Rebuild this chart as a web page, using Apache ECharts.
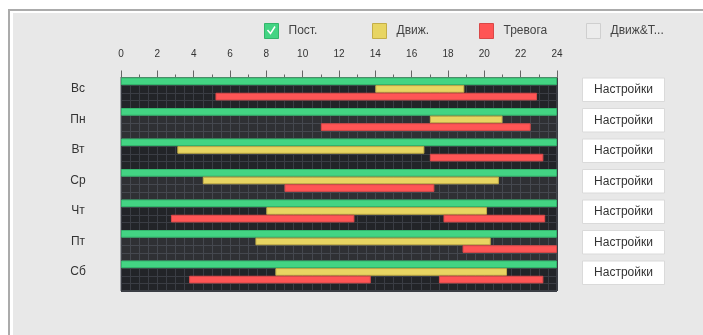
<!DOCTYPE html>
<html>
<head>
<meta charset="utf-8">
<script src="https://cdn.jsdelivr.net/npm/echarts@6/dist/echarts.min.js"></script>
<style>
  html, body { margin: 0; padding: 0; background: #ffffff; }
  #chart { width: 703px; height: 335px; }
</style>
</head>
<body>
<div id="chart"></div>
<script>
// ---- data ----
var days = ['Вс', 'Пн', 'Вт', 'Ср', 'Чт', 'Пт', 'Сб'];
var dayShade = [0, 1, 0, 1, 0, 1, 0];
var seriesNames = ['Пост.', 'Движ.', 'Тревога', 'Движ&Тревога'];
// [dayIndex, startHour, endHour]
var constantRec = [[0, 0, 24], [1, 0, 24], [2, 0, 24], [3, 0, 24], [4, 0, 24], [5, 0, 24], [6, 0, 24]];
var motionRec = [[0, 14, 18.9], [1, 17, 21], [2, 3.1, 16.7], [3, 4.5, 20.8], [4, 8, 20.15], [5, 7.4, 20.35], [6, 8.5, 21.25]];
var alarmRec = [[0, 5.2, 22.9], [1, 11, 22.55], [2, 17, 23.25], [3, 9, 17.25], [4, 2.75, 12.85], [4, 17.75, 23.35], [5, 18.8, 24], [6, 3.75, 13.75], [6, 17.5, 23.25]];
var comboRec = [];
var buttonText = 'Настройки';

var ROWS_PER_DAY = 4;
var colors = {
  fill: ['#43d483', '#e8d562', '#ff5555', '#ececec'],
  stroke: ['#33b56c', '#c4ae48', '#d94848', '#cfcfcf']
};

function barRenderer(rowOffset) {
  return function (params, api) {
    var day = api.value(0);
    var row = day * ROWS_PER_DAY + rowOffset;
    var p0 = api.coord([api.value(1), row]);
    var p1 = api.coord([api.value(2), row + 1]);
    return {
      type: 'rect',
      shape: { x: p0[0] + 0.5, y: p0[1] + 0.5, width: p1[0] - p0[0] - 1, height: p1[1] - p0[1] - 1 },
      style: { fill: colors.fill[rowOffset], stroke: colors.stroke[rowOffset], lineWidth: 1 }
    };
  };
}

function barSeries(idx, data) {
  return {
    name: seriesNames[idx],
    type: 'custom',
    xAxisIndex: 0,
    yAxisIndex: 0,
    itemStyle: { color: colors.fill[idx] },
    renderItem: barRenderer(idx),
    data: data,
    silent: true,
    z: 5
  };
}

var chart = echarts.init(document.getElementById('chart'), null, { renderer: 'canvas' });

function legendItem(idx, left) {
  return {
    left: left,
    top: 23,
    padding: 0,
    itemWidth: 14,
    itemHeight: 15,
    selectedMode: false,
    formatter: function (n) { return n.length > 8 ? n.slice(0, 6) + '...' : n; },
    textStyle: { color: '#444', fontSize: 12, padding: [0, 0, 0, 5], fontFamily: 'Liberation Sans, Arial, sans-serif' },
    data: [{ name: seriesNames[idx], icon: 'rect', itemStyle: { color: colors.fill[idx], borderColor: colors.stroke[idx], borderWidth: 1 } }]
  };
}

var option = {
  animation: false,
  backgroundColor: '#e8e8e8',
  textStyle: { fontFamily: 'Liberation Sans, Arial, sans-serif' },
  graphic: [
    { type: 'rect', shape: { x: 0, y: 0, width: 703, height: 13 }, style: { fill: '#ffffff' }, z: 100 },
    { type: 'rect', shape: { x: 0, y: 0, width: 13, height: 335 }, style: { fill: '#ffffff' }, z: 100 },
    { type: 'rect', shape: { x: 8, y: 9, width: 2, height: 326 }, style: { fill: '#ababab' }, z: 101 },
    { type: 'rect', shape: { x: 8, y: 9, width: 695, height: 2 }, style: { fill: '#ababab' }, z: 101 },
    { type: 'polyline', shape: { points: [[267.5, 30], [270.5, 33.5], [275, 26.5]] }, style: { stroke: '#ffffff', lineWidth: 1.5, fill: null }, z: 101 }
  ],
  legend: [
    legendItem(0, 264),
    legendItem(1, 372),
    legendItem(2, 479),
    legendItem(3, 586)
  ],
  grid: {
    left: 121, right: 146, top: 77.5, bottom: 44,
    show: true,
    backgroundColor: '#222428',
    borderColor: '#555860',
    borderWidth: 1
  },
  xAxis: [
    {
      type: 'value', position: 'top', min: 0, max: 24, interval: 2, offset: 4,
      axisLine: { show: true, lineStyle: { color: '#666' } },
      axisTick: { show: true, length: 7, lineStyle: { color: '#666' } },
      minorTick: { show: true, splitNumber: 2, length: 3, lineStyle: { color: '#666' } },
      axisLabel: { fontSize: 10, color: '#333', margin: 14 },
      splitLine: { show: false }
    },
    {
      type: 'value', position: 'bottom', min: 0, max: 24, interval: 0.5,
      axisLine: { show: false }, axisTick: { show: false }, axisLabel: { show: false },
      splitLine: { show: true, lineStyle: { color: '#3a3d44', width: 1 } }
    }
  ],
  yAxis: [
    {
      type: 'value', min: 0, max: days.length * ROWS_PER_DAY, interval: 1, inverse: true,
      axisLine: { show: false }, axisTick: { show: false }, axisLabel: { show: false },
      splitLine: { show: true, lineStyle: { color: '#3a3d44', width: 1 } }
    },
    {
      type: 'category', data: days, inverse: true, position: 'left',
      axisLine: { show: false }, axisTick: { show: false },
      axisLabel: { fontSize: 12, color: '#333', align: 'center', margin: 43, verticalAlign: 'bottom', padding: [0, 0, -2, 0] },
      splitLine: { show: false }
    }
  ],
  series: [
    {
      name: 'bg', type: 'custom', xAxisIndex: 0, yAxisIndex: 0, silent: true, z: 3,
      data: dayShade.map(function (s, i) { return [i, s]; }),
      renderItem: function (params, api) {
        var d = api.value(0);
        var p0 = api.coord([0, d * ROWS_PER_DAY]);
        var p1 = api.coord([24, (d + 1) * ROWS_PER_DAY]);
        return {
          type: 'rect',
          shape: { x: p0[0], y: p0[1], width: p1[0] - p0[0], height: p1[1] - p0[1] },
          style: { fill: api.value(1) ? 'rgba(255,255,255,0.06)' : 'rgba(0,0,0,0)' }
        };
      }
    },
    barSeries(0, constantRec),
    barSeries(1, motionRec),
    barSeries(2, alarmRec),
    barSeries(3, comboRec),
    {
      name: 'buttons', type: 'custom', xAxisIndex: 0, yAxisIndex: 0, silent: true, z: 6,
      data: days.map(function (d, i) { return [i]; }),
      renderItem: function (params, api) {
        var d = api.value(0);
        var p = api.coord([24, d * ROWS_PER_DAY]);
        var x = p[0] + 25.5, y = p[1] + 0.5;
        return {
          type: 'group',
          children: [
            { type: 'rect', shape: { x: x, y: y, width: 82, height: 23.5 }, style: { fill: '#ffffff', stroke: '#dadada', lineWidth: 1 } },
            { type: 'text', style: { text: buttonText, x: x + 41, y: y + 12, align: 'center', verticalAlign: 'middle', fill: '#333', fontSize: 12, fontFamily: 'Liberation Sans, Arial, sans-serif' } }
          ]
        };
      }
    }
  ]
};
chart.setOption(option);
</script>
</body>
</html>
